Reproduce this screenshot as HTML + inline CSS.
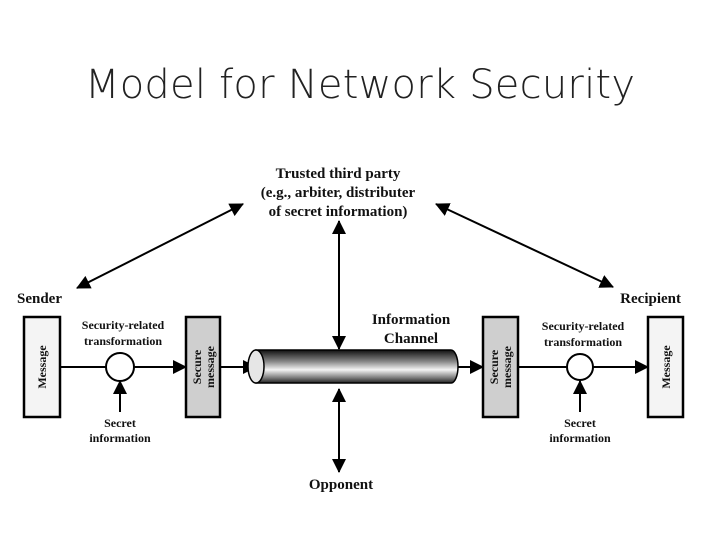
<!DOCTYPE html>
<html><head><style>
body{margin:0;background:#fff;width:720px;height:540px;overflow:hidden}
svg{display:block}
.t{font-family:"Liberation Serif",serif;font-weight:bold;fill:#111}
</style></head><body>
<svg width="720" height="540" viewBox="0 0 720 540">
<defs>
<marker id="b" markerWidth="14" markerHeight="14" refX="13" refY="7" orient="auto-start-reverse" markerUnits="userSpaceOnUse" viewBox="0 0 14 14">
<path d="M0,0 L14,7 L0,14 z" fill="#000"/></marker>
<linearGradient id="g" x1="0" y1="0" x2="0" y2="1">
<stop offset="0" stop-color="#111"/><stop offset="0.35" stop-color="#888"/><stop offset="0.6" stop-color="#f4f4f4"/><stop offset="0.85" stop-color="#777"/><stop offset="1" stop-color="#222"/></linearGradient>
</defs>
<text x="85" y="98" textLength="550" lengthAdjust="spacing" font-family="DejaVu Sans,Liberation Sans,sans-serif" font-weight="200" font-size="40" fill="#222">Model for Network Security</text>
<text class="t" x="338" y="178" text-anchor="middle" font-size="15">Trusted third party</text>
<text class="t" x="338" y="197" text-anchor="middle" font-size="15">(e.g., arbiter, distributer</text>
<text class="t" x="338" y="216" text-anchor="middle" font-size="15">of secret information)</text>
<g stroke="#000" stroke-width="2" fill="none">
<line x1="77" y1="288" x2="243" y2="204" marker-start="url(#b)" marker-end="url(#b)"/>
<line x1="436" y1="204" x2="613" y2="287" marker-start="url(#b)" marker-end="url(#b)"/>
<line x1="339" y1="221" x2="339" y2="349" marker-start="url(#b)" marker-end="url(#b)"/>
<line x1="339" y1="389" x2="339" y2="472" marker-start="url(#b)" marker-end="url(#b)"/>
</g>
<text class="t" x="17" y="303" font-size="15">Sender</text>
<text class="t" x="681" y="303" text-anchor="end" font-size="15">Recipient</text>
<text class="t" x="411" y="324" text-anchor="middle" font-size="15">Information</text>
<text class="t" x="411" y="343" text-anchor="middle" font-size="15">Channel</text>
<text class="t" x="341" y="489" text-anchor="middle" font-size="15">Opponent</text>
<rect x="24" y="317" width="36" height="100" fill="#f4f4f4" stroke="#000" stroke-width="2.5"/>
<text class="t" font-size="12" transform="translate(46,367) rotate(-90)" text-anchor="middle">Message</text>
<rect x="186" y="317" width="34" height="100" fill="#cfcfcf" stroke="#000" stroke-width="2.5"/>
<text class="t" font-size="12" transform="translate(201,367) rotate(-90)" text-anchor="middle">Secure</text>
<text class="t" font-size="12" transform="translate(214,367) rotate(-90)" text-anchor="middle">message</text>
<text class="t" x="123" y="329" text-anchor="middle" font-size="12">Security-related</text>
<text class="t" x="123" y="345" text-anchor="middle" font-size="12">transformation</text>
<g stroke="#000" stroke-width="2" fill="none">
<line x1="60" y1="367" x2="106" y2="367"/>
<line x1="134" y1="367" x2="186" y2="367" marker-end="url(#b)"/>
<line x1="220" y1="367" x2="256" y2="367" marker-end="url(#b)"/>
<line x1="120" y1="412" x2="120" y2="381" marker-end="url(#b)"/>
</g>
<circle cx="120" cy="367" r="14" fill="#fff" stroke="#000" stroke-width="2"/>
<text class="t" x="120" y="427" text-anchor="middle" font-size="12">Secret</text>
<text class="t" x="120" y="442" text-anchor="middle" font-size="12">information</text>
<path d="M256,350 L451,350 A7,16.5 0 0 1 451,383 L256,383 z" fill="url(#g)" stroke="#000" stroke-width="1.5"/>
<ellipse cx="256" cy="366.5" rx="8" ry="16.5" fill="#e6e6e6" stroke="#000" stroke-width="1.5"/>
<line x1="458" y1="367" x2="483" y2="367" stroke="#000" stroke-width="2" marker-end="url(#b)"/>
<rect x="483" y="317" width="35" height="100" fill="#cfcfcf" stroke="#000" stroke-width="2.5"/>
<text class="t" font-size="12" transform="translate(498,367) rotate(-90)" text-anchor="middle">Secure</text>
<text class="t" font-size="12" transform="translate(511,367) rotate(-90)" text-anchor="middle">message</text>
<rect x="648" y="317" width="35" height="100" fill="#f4f4f4" stroke="#000" stroke-width="2.5"/>
<text class="t" font-size="12" transform="translate(670,367) rotate(-90)" text-anchor="middle">Message</text>
<text class="t" x="583" y="330" text-anchor="middle" font-size="12">Security-related</text>
<text class="t" x="583" y="346" text-anchor="middle" font-size="12">transformation</text>
<g stroke="#000" stroke-width="2" fill="none">
<line x1="518" y1="367" x2="567" y2="367"/>
<line x1="593" y1="367" x2="648" y2="367" marker-end="url(#b)"/>
<line x1="580" y1="412" x2="580" y2="381" marker-end="url(#b)"/>
</g>
<circle cx="580" cy="367" r="13" fill="#fff" stroke="#000" stroke-width="2"/>
<text class="t" x="580" y="427" text-anchor="middle" font-size="12">Secret</text>
<text class="t" x="580" y="442" text-anchor="middle" font-size="12">information</text>
</svg>
</body></html>
